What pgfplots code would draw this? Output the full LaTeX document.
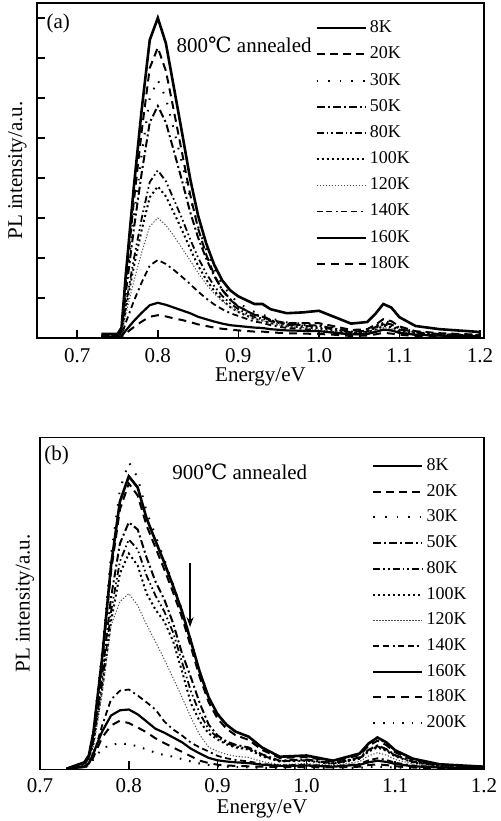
\documentclass[border=0pt]{standalone}
\usepackage{fontspec}
\setmainfont{Liberation Serif}
\newfontfamily\djs{DejaVu Serif}
\usepackage{pgfplots}
\usepackage{pgfplotstable}
\pgfplotsset{compat=1.18}
\usetikzlibrary{arrows.meta}

\pgfplotstableread{
x     T8   T20  T30  T50  T80  T100 T120 T140 T160 T180
0.73  0.10 0.06 0.05 0.05 0.04 0.04 0.03 0.03 0.03 0.02
0.75  0.10 0.06 0.05 0.05 0.04 0.04 0.03 0.03 0.03 0.02
0.755 0.26 0.20 0.18 0.16 0.12 0.11 0.09 0.06 0.04 0.03
0.76  1.52 1.35 1.20 1.08 0.79 0.71 0.56 0.37 0.18 0.11
0.77  3.73 3.37 2.99 2.69 1.95 1.76 1.40 0.91 0.42 0.27
0.78  5.71 5.17 4.59 4.13 2.99 2.70 2.14 1.39 0.63 0.41
0.79  7.45 6.75 6.00 5.39 3.90 3.52 2.79 1.81 0.82 0.53
0.80  8.00 7.26 6.45 5.80 4.19 3.79 3.00 1.95 0.88 0.57
0.81  7.37 6.68 6.00 5.39 3.92 3.54 2.82 1.85 0.83 0.54
0.82  6.26 5.67 5.20 4.67 3.46 3.13 2.55 1.70 0.76 0.49
0.83  5.14 4.64 4.38 3.94 2.99 2.70 2.25 1.53 0.69 0.45
0.84  4.00 3.60 3.52 3.16 2.48 2.24 1.94 1.35 0.62 0.40
0.85  3.06 2.74 2.79 2.51 2.01 1.81 1.63 1.16 0.53 0.34
0.86  2.37 2.09 2.21 1.99 1.62 1.46 1.35 0.99 0.47 0.30
0.87  1.83 1.58 1.73 1.55 1.30 1.18 1.11 0.84 0.41 0.26
0.88  1.44 1.20 1.33 1.20 1.05 0.95 0.92 0.72 0.36 0.23
0.89  1.19 0.95 1.08 0.97 0.86 0.77 0.78 0.62 0.32 0.21
0.90  1.04 0.79 0.87 0.78 0.72 0.65 0.66 0.55 0.30 0.19
0.92  0.85 0.58 0.65 0.58 0.52 0.47 0.49 0.41 0.26 0.16
0.93  0.85 0.55 0.59 0.53 0.49 0.44 0.44 0.38 0.25 0.16
0.94  0.72 0.45 0.49 0.44 0.42 0.37 0.37 0.32 0.22 0.14
0.96  0.62 0.37 0.39 0.35 0.33 0.29 0.29 0.25 0.19 0.12
0.98  0.64 0.37 0.36 0.32 0.31 0.27 0.26 0.23 0.18 0.11
1.00  0.68 0.37 0.34 0.31 0.27 0.24 0.20 0.17 0.17 0.10
1.02  0.52 0.29 0.26 0.23 0.21 0.18 0.16 0.13 0.13 0.08
1.04  0.36 0.20 0.18 0.16 0.14 0.13 0.11 0.09 0.09 0.05
1.06  0.40 0.22 0.20 0.18 0.16 0.14 0.12 0.10 0.10 0.06
1.07  0.60 0.33 0.30 0.27 0.24 0.21 0.18 0.15 0.15 0.09
1.08  0.85 0.47 0.43 0.38 0.34 0.30 0.26 0.21 0.21 0.13
1.09  0.76 0.42 0.38 0.34 0.30 0.27 0.23 0.19 0.19 0.11
1.10  0.52 0.29 0.26 0.23 0.21 0.18 0.16 0.13 0.13 0.08
1.12  0.30 0.17 0.15 0.14 0.12 0.11 0.09 0.08 0.08 0.05
1.15  0.22 0.12 0.11 0.10 0.09 0.08 0.07 0.06 0.06 0.03
1.20  0.15 0.08 0.08 0.07 0.06 0.05 0.05 0.04 0.04 0.02
}\dataA

\pgfplotstableread{
x     T8   T20  T30  T50  T80  T100 T120 T140 T160 T180 T200
0.73  0.02 0.02 0.02 0.02 0.02 0.02 0.01 0.01 0.01 0.01 0.01
0.75  0.18 0.16 0.18 0.15 0.14 0.13 0.10 0.06 0.08 0.06 0.05
0.755 0.35 0.33 0.37 0.30 0.28 0.26 0.20 0.15 0.15 0.12 0.10
0.76  0.90 0.86 0.95 0.75 0.70 0.65 0.50 0.35 0.40 0.30 0.25
0.77  2.80 2.70 2.95 2.35 2.15 2.00 1.90 1.10 0.95 0.80 0.52
0.78  5.10 4.95 5.35 4.30 3.95 3.70 3.60 1.75 1.35 1.10 0.62
0.79  6.70 6.50 7.00 5.65 5.20 4.90 4.20 1.97 1.48 1.22 0.65
0.80  7.33 7.15 7.68 6.18 5.75 5.40 4.40 2.00 1.50 1.16 0.63
0.81  7.05 6.85 7.30 6.00 5.50 5.10 4.10 1.85 1.38 1.05 0.58
0.82  6.28 6.10 6.45 5.30 4.85 4.40 3.62 1.68 1.20 0.93 0.50
0.83  5.72 5.55 5.85 4.70 4.35 4.00 3.20 1.50 1.02 0.78 0.42
0.84  5.17 5.00 5.25 4.25 3.95 3.70 2.75 1.20 0.92 0.66 0.36
0.85  4.58 4.42 4.62 3.65 3.42 3.20 2.28 1.00 0.80 0.55 0.32
0.86  3.95 3.80 3.98 2.90 2.68 2.45 1.80 0.85 0.68 0.44 0.26
0.87  3.20 3.06 3.22 2.30 1.95 1.65 1.30 0.67 0.52 0.33 0.20
0.88  2.43 2.30 2.45 1.65 1.40 1.20 0.86 0.55 0.40 0.22 0.15
0.89  1.80 1.68 1.82 1.12 1.00 0.90 0.56 0.45 0.29 0.16 0.11
0.90  1.38 1.27 1.40 0.85 0.80 0.75 0.45 0.34 0.23 0.12 0.08
0.91  1.12 1.02 1.13 0.70 0.66 0.63 0.38 0.28 0.20 0.10 0.07
0.92  0.95 0.86 0.96 0.62 0.58 0.55 0.33 0.24 0.18 0.09 0.06
0.935 0.82 0.74 0.82 0.55 0.52 0.50 0.30 0.20 0.16 0.08 0.05
0.95  0.55 0.49 0.55 0.38 0.35 0.33 0.20 0.14 0.12 0.07 0.04
0.97  0.32 0.29 0.32 0.22 0.21 0.20 0.12 0.10 0.09 0.06 0.04
1.00  0.35 0.31 0.34 0.25 0.23 0.22 0.15 0.12 0.10 0.06 0.04
1.03  0.22 0.20 0.22 0.16 0.15 0.14 0.10 0.08 0.07 0.05 0.03
1.06  0.40 0.36 0.40 0.30 0.28 0.27 0.20 0.14 0.12 0.07 0.04
1.07  0.65 0.59 0.63 0.49 0.47 0.45 0.34 0.23 0.18 0.11 0.06
1.08  0.80 0.72 0.78 0.60 0.58 0.55 0.42 0.28 0.22 0.13 0.07
1.09  0.68 0.61 0.66 0.51 0.49 0.47 0.36 0.24 0.19 0.11 0.06
1.10  0.48 0.43 0.47 0.36 0.35 0.33 0.25 0.17 0.14 0.08 0.05
1.12  0.27 0.24 0.26 0.20 0.19 0.18 0.14 0.10 0.08 0.05 0.03
1.15  0.13 0.12 0.13 0.10 0.09 0.09 0.07 0.05 0.05 0.03 0.02
1.20  0.07 0.06 0.07 0.05 0.05 0.05 0.04 0.03 0.03 0.02 0.01
}\dataB

\tikzset{
  s8/.style={black, line width=1.3bp},
  s20/.style={black, line width=1bp, dash pattern=on 4bp off 2.5bp},
  s30/.style={black, line width=1bp, dash pattern=on 0.8bp off 5bp},
  s50/.style={black, line width=1bp, dash pattern=on 4bp off 1.5bp on 1bp off 1.5bp},
  s80/.style={black, line width=0.9bp, dash pattern=on 3.5bp off 1.5bp on 0.8bp off 1.5bp on 0.8bp off 1.5bp},
  s100/.style={black, line width=1bp, dash pattern=on 1bp off 1.5bp},
  s120/.style={black!70, line width=0.5bp, dash pattern=on 0.6bp off 0.9bp},
  s140/.style={black, line width=0.9bp, dash pattern=on 3bp off 1.8bp on 3bp off 1.8bp on 1bp off 1.8bp},
  s160/.style={black, line width=1.1bp},
  s180/.style={black, line width=1bp, dash pattern=on 4bp off 3bp},
  s200/.style={black, line width=1bp, dash pattern=on 0.8bp off 4bp},
}

\pgfplotsset{
  common/.style={
    scale only axis,
    tick align=inside, xtick pos=left, ytick pos=left,
    major tick length=4bp,
    axis line style={line width=0.9bp},
    every tick/.style={black, line width=0.8bp},
    xtick={0.7,0.8,0.9,1.0,1.1,1.2},
    /pgf/number format/fixed,
    /pgf/number format/fixed zerofill,
    /pgf/number format/precision=1,
    /pgf/number format/assume math mode=true,
    xlabel={Energy/eV}, ylabel={PL intensity/a.u.},
    label style={font=\fontsize{10.5bp}{12bp}\selectfont},
    legend cell align=left,
    legend image code/.code={\draw[##1] (0bp,0bp) -- (24.5bp,0bp);},
    legend style={draw=none, fill=none, anchor=north west,
      inner sep=0pt, outer sep=0pt, column sep=1bp,
      nodes={inner sep=0.5bp, text height=6bp, text depth=1.5bp,
             font=\fontsize{9bp}{10bp}\selectfont},
      font=\fontsize{9bp}{10bp}\selectfont},
  },
}

\begin{document}
\begin{tikzpicture}
\useasboundingbox (0,0) rectangle (250.5bp,410.5bp);

% ---------- panel (a) ----------
\begin{axis}[common,
  at={(18.5bp,241.5bp)}, anchor=south west,
  width=223.5bp, height=167.5bp,
  xmin=0.65, xmax=1.205, ymin=0, ymax=8.375,
  ytick={1,2,3,4,5,6,7,8}, yticklabels={,,,,,,,},
  xticklabel style={font=\fontsize{10.5bp}{12bp}\selectfont, yshift=-2bp},
  xlabel style={at={(axis description cs:0.5,0)}, anchor=center, yshift=-19.5bp},
  ylabel style={at={(axis description cs:-0.0436,0.5)}, anchor=center},
  legend style={at={(axis cs:0.9955,7.96)}, row sep=4.6bp},
]
\addplot[s8]   table[x=x,y=T8]   {\dataA}; \addlegendentry{8K}
\addplot[s20]  table[x=x,y=T20]  {\dataA}; \addlegendentry{20K}
\addplot[s30]  table[x=x,y=T30]  {\dataA}; \addlegendentry{30K}
\addplot[s50]  table[x=x,y=T50]  {\dataA}; \addlegendentry{50K}
\addplot[s80]  table[x=x,y=T80]  {\dataA}; \addlegendentry{80K}
\addplot[s100] table[x=x,y=T100] {\dataA}; \addlegendentry{100K}
\addplot[s120] table[x=x,y=T120] {\dataA}; \addlegendentry{120K}
\addplot[s140] table[x=x,y=T140] {\dataA}; \addlegendentry{140K}
\addplot[s160] table[x=x,y=T160] {\dataA}; \addlegendentry{160K}
\addplot[s180] table[x=x,y=T180] {\dataA}; \addlegendentry{180K}
\node[anchor=west, inner sep=0pt, font=\fontsize{10.5bp}{12bp}\selectfont] at (axis cs:0.6615,7.875) {(a)};
\node[anchor=west, inner sep=0pt, font=\fontsize{10.5bp}{12bp}\selectfont] at (axis cs:0.823,7.33) {800{\djs ℃} annealed};
\end{axis}

% ---------- panel (b) ----------
\begin{axis}[common,
  at={(20bp,25.75bp)}, anchor=south west,
  width=222bp, height=166bp,
  xmin=0.7, xmax=1.2, ymin=0, ymax=8.3,
  ytick=\empty,
  xticklabel style={font=\fontsize{10.5bp}{12bp}\selectfont, yshift=-1bp},
  xlabel style={at={(axis description cs:0.5,0)}, anchor=center, yshift=-19.7bp},
  ylabel style={at={(axis description cs:-0.034,0.5)}, anchor=center},
  legend style={at={(axis cs:1.0739,7.8)}, row sep=4.35bp},
]
\addplot[s8]   table[x=x,y=T8]   {\dataB}; \addlegendentry{8K}
\addplot[s20]  table[x=x,y=T20]  {\dataB}; \addlegendentry{20K}
\addplot[s30]  table[x=x,y=T30]  {\dataB}; \addlegendentry{30K}
\addplot[s50]  table[x=x,y=T50]  {\dataB}; \addlegendentry{50K}
\addplot[s80]  table[x=x,y=T80]  {\dataB}; \addlegendentry{80K}
\addplot[s100] table[x=x,y=T100] {\dataB}; \addlegendentry{100K}
\addplot[s120] table[x=x,y=T120] {\dataB}; \addlegendentry{120K}
\addplot[s140] table[x=x,y=T140] {\dataB}; \addlegendentry{140K}
\addplot[s160] table[x=x,y=T160] {\dataB}; \addlegendentry{160K}
\addplot[s180] table[x=x,y=T180] {\dataB}; \addlegendentry{180K}
\addplot[s200] table[x=x,y=T200] {\dataB}; \addlegendentry{200K}
\node[anchor=west, inner sep=0pt, font=\fontsize{10.5bp}{12bp}\selectfont] at (axis cs:0.7045,7.86) {(b)};
\node[anchor=west, inner sep=0pt, font=\fontsize{10.5bp}{12bp}\selectfont] at (axis cs:0.8486,7.44) {900{\djs ℃} annealed};
\draw[line width=0.8bp, -{Stealth[length=5bp,width=3.5bp]}] (axis cs:0.869,5.16) -- (axis cs:0.869,3.56);
\end{axis}
\end{tikzpicture}
\end{document}
